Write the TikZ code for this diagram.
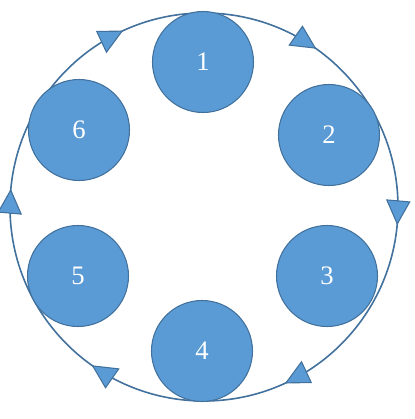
\documentclass[tikz,border=0pt]{standalone}
\usepackage{fontspec}
\setmainfont{Liberation Serif}
\definecolor{fillblue}{HTML}{5B9BD5}
\definecolor{lineblue}{HTML}{41719C}
\begin{document}
\begin{tikzpicture}[x=0.75pt,y=0.75pt,
  ring/.style={draw=lineblue,line width=1.2pt},
  ball/.style={circle,draw=lineblue,line width=0.8pt,fill=fillblue,minimum size=101*0.75pt,inner sep=0pt,text=white,font=\fontsize{20}{24}\selectfont},
  tip/.style={draw=lineblue,line width=0.8pt,fill=fillblue,line join=miter}]
\useasboundingbox (-204,-212) rectangle (211,207);
\node[circle,minimum size=388*0.75pt,inner sep=0pt] (big) at (0,0) {};
\draw[ring] (big.center) circle[radius=194];
\node[ball] (n1) at (-1,145) {1};
\node[ball] (n2) at (125,72) {2};
\node[ball] (n3) at (123,-69) {3};
\node[ball] (n4) at (-2,-144) {4};
\node[ball] (n5) at (-126,-69) {5};
\node[ball] (n6) at (-125,77) {6};
\foreach \a in {175,115,55,-5,-65,-125}{
  \begin{scope}[shift={(\a:194)},rotate=\a]
    \draw[tip] (0,0) -- (-12.5,23) -- (10.5,23) -- cycle;
  \end{scope}
}
\end{tikzpicture}
\end{document}
